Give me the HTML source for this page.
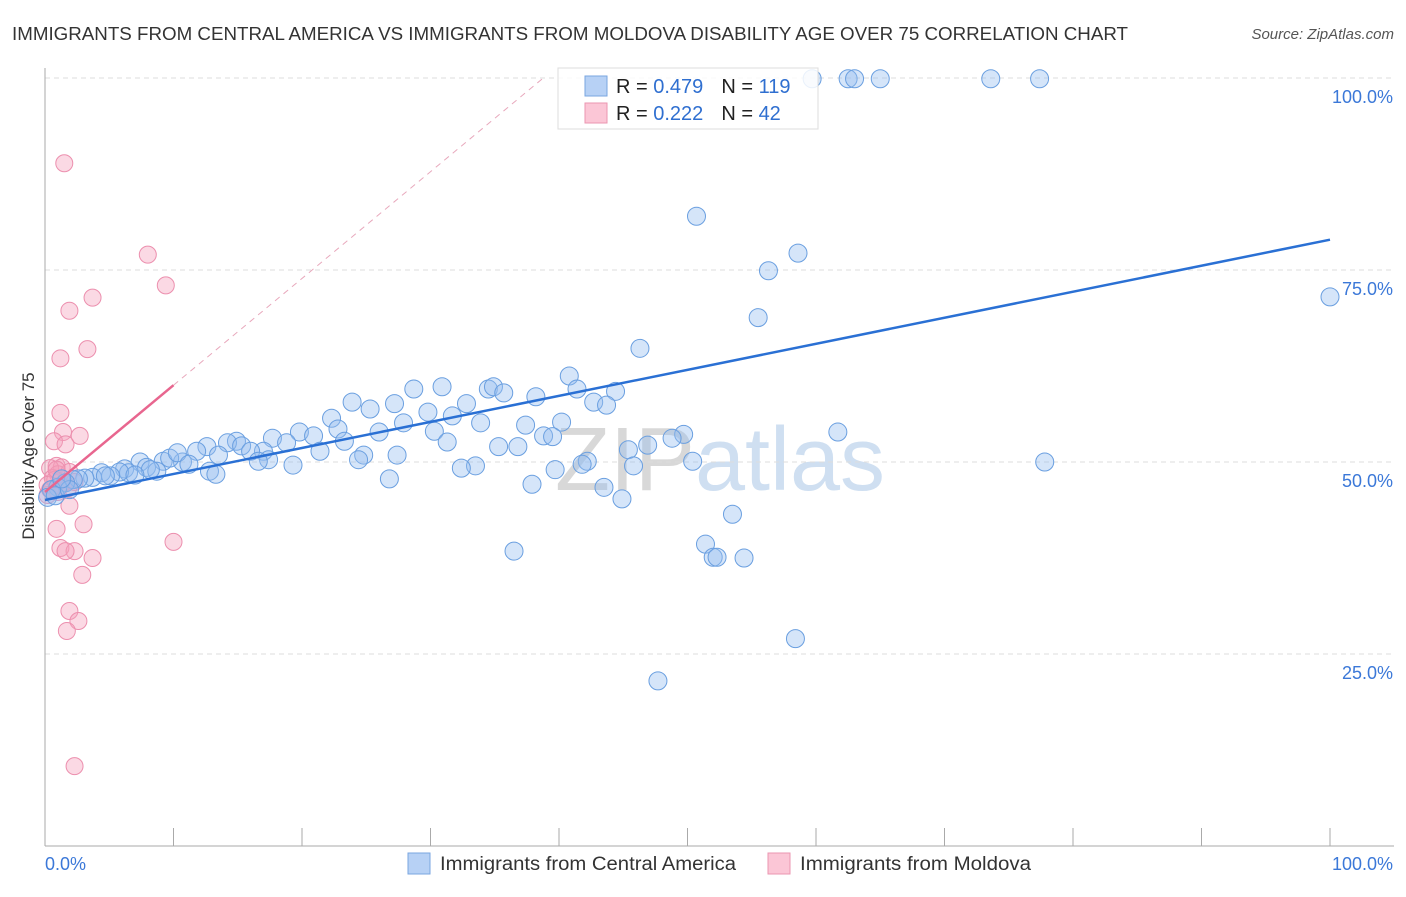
<!DOCTYPE html>
<html><head><meta charset="utf-8">
<style>
body{margin:0;background:#fff;font-family:"Liberation Sans",sans-serif;}
svg text{font-family:"Liberation Sans",sans-serif;}
</style></head>
<body>
<svg id="chart" width="1406" height="892" viewBox="0 0 1406 892" xmlns="http://www.w3.org/2000/svg">
<text x="12" y="40" font-size="18" fill="#333" textLength="1116" lengthAdjust="spacingAndGlyphs">IMMIGRANTS FROM CENTRAL AMERICA VS IMMIGRANTS FROM MOLDOVA DISABILITY AGE OVER 75 CORRELATION CHART</text>
<text x="1394" y="39" font-size="15" fill="#555" text-anchor="end" font-style="italic">Source: ZipAtlas.com</text>
<text x="720" y="490" font-size="90" text-anchor="middle" fill="#d8e4f0" font-family="Liberation Serif" opacity="0.8"><tspan fill="#cfcfcf">ZIP</tspan><tspan font-family="Liberation Sans" fill="#c4d8ee">atlas</tspan></text>
<g id="grid"></g><g id="axes"></g><g id="pink"></g><g id="blue"></g><g id="lines"></g>
<g>
<rect x="558" y="68" width="260" height="61" fill="#fff" fill-opacity="0.85" stroke="#ddd"/>
<rect x="585" y="76" width="22" height="20" fill="#b7d1f5" stroke="#7aa6e0"/>
<rect x="585" y="103" width="22" height="20" fill="#fbc6d6" stroke="#eb96b0"/>
<text x="616" y="93" font-size="20" fill="#222">R = <tspan fill="#2f6fd0">0.479</tspan><tspan dx="18">N = </tspan><tspan fill="#2f6fd0">119</tspan></text>
<text x="616" y="120" font-size="20" fill="#222">R = <tspan fill="#2f6fd0"> 0.222</tspan><tspan dx="18">N = </tspan><tspan fill="#2f6fd0"> 42</tspan></text>
</g>
<text transform="translate(34,456) rotate(-90)" font-size="17" fill="#333" text-anchor="middle">Disability Age Over 75</text>
<g>
<rect x="408" y="853" width="22" height="21" fill="#b7d1f5" stroke="#7aa6e0"/>
<text x="440" y="870" font-size="19" fill="#333" textLength="296" lengthAdjust="spacingAndGlyphs">Immigrants from Central America</text>
<rect x="768" y="853" width="22" height="21" fill="#fbc6d6" stroke="#eb96b0"/>
<text x="800" y="870" font-size="19" fill="#333" textLength="231" lengthAdjust="spacingAndGlyphs">Immigrants from Moldova</text>
</g>
</svg>
<script>
const blueX=[59.7,62.5,63.0,65.0,73.6,77.4,50.7,58.6,56.3,55.5,100,46.3,40.8,41.4,44.4,30.9,34.5,34.9,35.7,28.7,23.9,27.2,32.8,29.8,38.2,42.7,43.7,22.3,25.3,40.2,27.9,31.7,33.9,19.8,22.8,26.0,30.3,37.4,38.8,39.5,49.7,48.8,61.7,17.7,18.8,20.9,23.3,14.9,14.2,12.6,15.3,35.3,36.8,31.3,45.4,46.9,11.8,17.0,16.0,21.4,24.8,27.4,13.5,24.4,17.4,16.6,19.3,10.7,9.2,42.2,50.4,77.8,41.8,45.8,33.5,32.4,7.4,9.7,10.3,11.2,7.9,6.2,6.5,5.8,4.4,12.8,13.3,8.7,39.7,3.7,5.1,3.1,2.6,2.2,1.6,1.0,0.5,0.2,0.8,26.8,37.9,43.5,44.9,53.5,36.5,51.4,52.0,52.3,54.4,58.4,47.7,1.9,1.3,4.7,8.2,7.0];
const blueY=[99.9,99.9,99.9,99.9,99.9,99.9,82.0,77.2,74.9,68.8,71.5,64.8,61.2,59.5,59.2,59.8,59.5,59.8,59.0,59.5,57.8,57.6,57.6,56.5,58.5,57.8,57.4,55.7,56.9,55.2,55.1,56.0,55.1,53.9,54.3,53.9,54.0,54.8,53.4,53.3,53.6,53.1,53.9,53.1,52.5,53.4,52.7,52.7,52.5,52.0,52.1,52.0,52.0,52.6,51.6,52.2,51.4,51.4,51.4,51.4,50.9,50.9,50.9,50.3,50.3,50.1,49.6,50.0,50.1,50.1,50.1,50.0,49.7,49.5,49.5,49.2,50.0,50.5,51.2,49.7,49.3,49.1,48.6,48.7,48.6,48.8,48.4,48.8,49.0,48.0,48.2,47.9,47.8,47.7,47.3,46.7,46.4,45.4,45.6,47.8,47.1,46.7,45.2,43.2,38.4,39.3,37.6,37.6,37.5,27.0,21.5,46.4,47.8,48.2,49.0,48.3];
const pinkX=[1.5,8.0,9.4,3.7,1.9,3.3,1.2,1.2,1.4,2.7,0.7,1.6,0.9,1.3,0.4,1.0,0.6,1.9,0.2,0.5,1.0,0.2,0.8,1.5,1.8,2.3,1.9,3.0,0.9,10.0,1.2,2.3,3.7,1.6,2.9,1.9,2.6,1.7,2.3,0.4,1.2,0.9];
const pinkY=[88.9,77.0,73.0,71.4,69.7,64.7,63.5,56.4,53.9,53.4,52.7,52.3,49.5,49.3,49.2,48.4,47.9,48.7,47.0,46.4,46.1,45.7,47.7,47.3,46.6,47.4,44.3,41.9,41.3,39.6,38.8,38.4,37.5,38.4,35.3,30.6,29.3,28.0,10.4,46.4,46.9,49.0];
const blueFit=[45.05,0.339];
const pinkFit=[46.1,1.39];
const yTicks=[25,50,75,100];
const xTicks=[0,10,20,30,40,50,60,70,80,90,100];
const NS="http://www.w3.org/2000/svg";
const sx=v=>45+v*12.85, sy=v=>846-v*7.68;
function mk(t,a,p){const e=document.createElementNS(NS,t);for(const k in a)e.setAttribute(k,a[k]);p.appendChild(e);return e;}
const grid=document.getElementById('grid'),axes=document.getElementById('axes');
yTicks.forEach(t=>{
 const l=mk('line',{x1:45,x2:1394,y1:sy(t),y2:sy(t),stroke:'#ddd','stroke-dasharray':'5,4'},grid);
 
 
 const tx=mk('text',{x:1393,y:sy(t)+25,'font-size':18,fill:'#3b78d8','text-anchor':'end'},axes);
 tx.textContent=t.toFixed(1)+'%';
 
 
});
const ya=mk('line',{x1:45,x2:45,y1:68,y2:846,stroke:'#aaa'},axes);


const xa=mk('line',{x1:45,x2:1394,y1:846,y2:846,stroke:'#aaa'},axes);


xTicks.forEach(t=>{
 const l=mk('line',{x1:sx(t),x2:sx(t),y1:828,y2:846,stroke:'#aaa'},axes);
 
 
});
[[0,'start','0.0%'],[100,'end','100.0%']].forEach(([v,a,s])=>{
 const tx=mk('text',{x:v===0?45:1393,y:870,'font-size':18,fill:'#3b78d8','text-anchor':a},axes);
 tx.textContent=s;
 
 
});
const pg=document.getElementById('pink'),bg=document.getElementById('blue');
pinkX.forEach((x,i)=>{
 const c=mk('circle',{cx:sx(x),cy:sy(pinkY[i]),r:8.5,fill:'rgba(246,160,188,0.4)',stroke:'#ec8fae','stroke-width':1},pg);
 
 
});
blueX.forEach((x,i)=>{
 const c=mk('circle',{cx:sx(x),cy:sy(blueY[i]),r:9,fill:'rgba(150,190,240,0.4)',stroke:'#6a9fe0','stroke-width':1},bg);
 
 
});
const lg=document.getElementById('lines');
const bl=mk('line',{x1:sx(0),y1:sy(blueFit[0]),x2:sx(100),y2:sy(blueFit[0]+blueFit[1]*100),stroke:'#2a70d4','stroke-width':2.5},lg);


const xEnd=(100-pinkFit[0])/pinkFit[1];
const pd=mk('line',{x1:sx(10),y1:sy(pinkFit[0]+pinkFit[1]*10),x2:sx(xEnd),y2:sy(100),stroke:'#e8a8bc','stroke-width':1,'stroke-dasharray':'6,5'},lg);


const pl=mk('line',{x1:sx(0),y1:sy(pinkFit[0]),x2:sx(10),y2:sy(pinkFit[0]+pinkFit[1]*10),stroke:'#e8668f','stroke-width':2.5},lg);


</script>
</body></html>
